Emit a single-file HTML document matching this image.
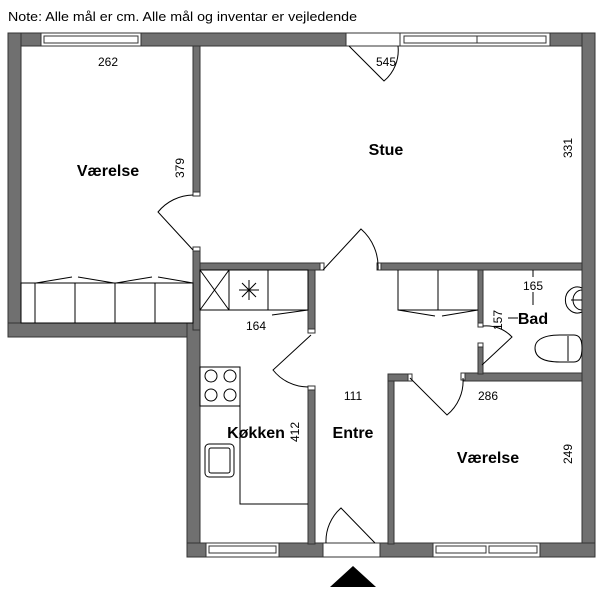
<!DOCTYPE html>
<html><head><meta charset="utf-8"><style>
html,body{margin:0;padding:0;background:#fff;}
svg{display:block;}
text{font-family:"Liberation Sans",sans-serif;fill:#000;}
</style></head><body>
<svg width="600" height="592" viewBox="0 0 600 592" xmlns="http://www.w3.org/2000/svg">
<text x="8" y="21" font-size="13" textLength="349" lengthAdjust="spacingAndGlyphs">Note: Alle mål er cm. Alle mål og inventar er vejledende</text>
<g fill="#707070" stroke="#333" stroke-width="1">
<rect x="8" y="33" width="33" height="13"/>
<rect x="141" y="33" width="205" height="13"/>
<rect x="550" y="33" width="45" height="13"/>
<rect x="8" y="33" width="13" height="304"/>
<rect x="8" y="323" width="192" height="14"/>
<rect x="187" y="323" width="13" height="234"/>
<rect x="582" y="33" width="13" height="524"/>
<rect x="187" y="543" width="19" height="14"/>
<rect x="279" y="543" width="44" height="14"/>
<rect x="380" y="543" width="53" height="14"/>
<rect x="540" y="543" width="55" height="14"/>
<rect x="193" y="46" width="7" height="149"/>
<rect x="193" y="250" width="7" height="80"/>
<rect x="200" y="263" width="123" height="7"/>
<rect x="378" y="263" width="204" height="7"/>
<rect x="308" y="270" width="7" height="62"/>
<rect x="308" y="388" width="7" height="156"/>
<rect x="388" y="374" width="6" height="170"/>
<rect x="388" y="374" width="22" height="7"/>
<rect x="463" y="373" width="119" height="8"/>
<rect x="478" y="270" width="5" height="56"/>
<rect x="478" y="345" width="5" height="29"/>
</g>
<g fill="#fff" stroke="#333" stroke-width="1">
<rect x="41" y="33" width="100" height="13"/>
<rect x="44" y="36" width="94" height="7"/>
<rect x="400" y="33" width="150" height="13"/>
<rect x="404" y="36" width="73" height="7"/><rect x="477" y="36" width="69" height="7"/>
<rect x="206" y="543" width="73" height="14"/>
<rect x="209" y="546" width="67" height="7"/>
<rect x="433" y="543" width="107" height="14"/>
<rect x="436" y="546" width="50" height="7"/><rect x="489" y="546" width="48" height="7"/>
<rect x="346" y="33" width="54" height="13"/>
<rect x="323" y="543" width="57" height="14"/>
<rect x="193" y="192" width="7" height="4"/><rect x="193" y="247" width="7" height="4"/>
<rect x="320" y="263" width="4" height="7"/><rect x="377" y="263" width="4" height="7"/>
<rect x="308" y="329" width="7" height="4"/><rect x="308" y="386" width="7" height="4"/>
<rect x="408" y="374" width="4" height="7"/><rect x="461" y="373" width="4" height="7"/>
<rect x="478" y="323" width="5" height="4"/><rect x="478" y="343" width="5" height="4"/>
</g>
<g fill="none" stroke="#000" stroke-width="1">
<rect x="21" y="283" width="172" height="40"/>
<line x1="35" y1="283" x2="35" y2="323"/><line x1="75" y1="283" x2="75" y2="323"/>
<line x1="115" y1="283" x2="115" y2="323"/><line x1="155" y1="283" x2="155" y2="323"/>
<path d="M36 283 L72 277 M78 277 L114 283 M116 283 L152 277 M158 277 L193 283"/>
<rect x="200" y="270" width="108" height="40"/>
<line x1="229" y1="270" x2="229" y2="310"/><line x1="268" y1="270" x2="268" y2="310"/>
<path d="M200 270 L229 310 M229 270 L200 310"/>
<path d="M249 280 V300 M239 290 H259 M242 283 L256 297 M256 283 L242 297"/>
<path d="M272 315 L308 310"/>
<rect x="200" y="367" width="40" height="39"/>
<circle cx="211" cy="376" r="6"/><circle cx="230" cy="376" r="6"/>
<circle cx="211" cy="395" r="6"/><circle cx="230" cy="395" r="6"/>
<path d="M240 406 V504 H308"/>
<rect x="205" y="444" width="29" height="33" rx="4"/>
<rect x="209" y="448" width="21" height="25" rx="2"/>
<path d="M398 270 V310 H478 M438 270 V310"/>
<path d="M398 310 L435 316 M442 316 L478 310"/>
<line x1="533" y1="270" x2="533" y2="277"/><line x1="533" y1="292" x2="533" y2="305"/>
<line x1="508" y1="318" x2="518" y2="318"/>
<path d="M582 288 A12 13 0 1 0 582 312"/>
<path d="M582 290 A9 10 0 1 0 582 310"/>
<line x1="571" y1="300" x2="582" y2="300"/>
<path d="M574 335 H560 C540 335 535 342 535 348 C535 355 540 362 560 362 H574 Q582 362 582 348 Q582 335 574 335 Z"/>
<line x1="568" y1="336" x2="568" y2="361"/>
<path d="M193 250 L158 212 A46 46 0 0 1 193 195"/>
<path d="M349 46 L384 81 A40 40 0 0 0 398 46"/>
<path d="M323 270 L361 229 A50 50 0 0 1 378 270"/>
<path d="M311 335 L273 370 A45 45 0 0 0 308 387"/>
<path d="M375 543 L341 508 A44 44 0 0 0 326 543"/>
<path d="M410 378 L447 415 A44 44 0 0 0 463 378"/>
<path d="M482 365 L512 337 A35 35 0 0 0 483 326"/>
</g>
<polygon points="330,587 376,587 353,566" fill="#000"/>
<g font-size="12" text-anchor="middle">
<text x="108" y="66">262</text>
<text x="386" y="66">545</text>
<text x="256" y="330">164</text>
<text x="533" y="290">165</text>
<text x="353" y="400">111</text>
<text x="488" y="400">286</text>
<text transform="translate(184,168) rotate(-90)">379</text>
<text transform="translate(572,148) rotate(-90)">331</text>
<text transform="translate(502,320) rotate(-90)">157</text>
<text transform="translate(299,432) rotate(-90)">412</text>
<text transform="translate(572,454) rotate(-90)">249</text>
</g>
<g font-size="16" font-weight="bold" text-anchor="middle">
<text x="108" y="176">Værelse</text>
<text x="386" y="155">Stue</text>
<text x="533" y="324">Bad</text>
<text x="256" y="438">Køkken</text>
<text x="353" y="438">Entre</text>
<text x="488" y="463">Værelse</text>
</g>
</svg>
</body></html>
